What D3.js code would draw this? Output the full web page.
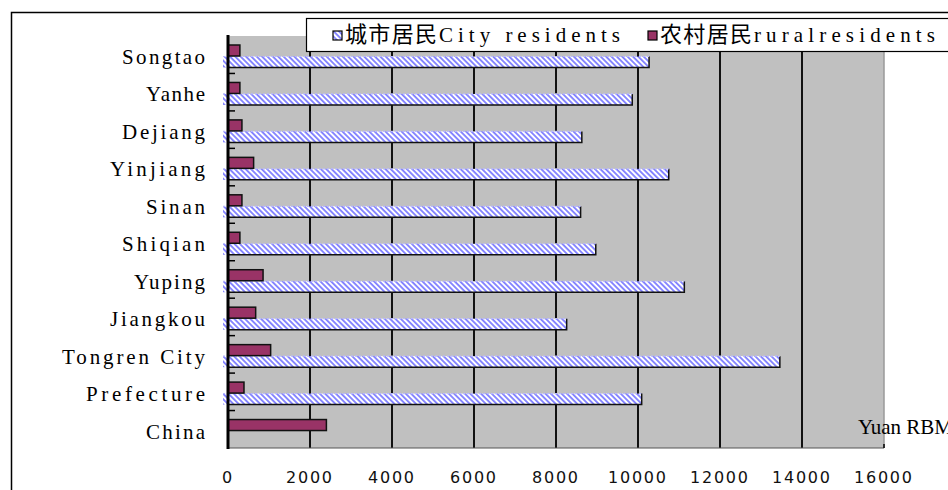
<!DOCTYPE html>
<html>
<head>
<meta charset="utf-8">
<script src="https://cdn.jsdelivr.net/npm/d3@7"></script>
<style>
  html, body { margin: 0; padding: 0; background: #fff; }
  svg { display: block; }
</style>
</head>
<body>
<svg id="chart" width="948" height="490"></svg>
<script>
// Per-capita income by county: urban vs rural residents (Yuan RMB)
const categories = ["Songtao", "Yanhe", "Dejiang", "Yinjiang", "Sinan", "Shiqian",
                    "Yuping", "Jiangkou", "Tongren City", "Prefecture", "China"];
const cityValues  = [10270, 9860, 8630, 10750, 8600, 8970, 11130, 8260, 13460, 10090, null];
const ruralValues = [290, 290, 340, 625, 340, 290, 855, 675, 1040, 390, 2400];
const xTicks = [0, 2000, 4000, 6000, 8000, 10000, 12000, 14000, 16000];
const legendZh = ["城市居民", "农村居民"];
const legendEn = ["City residents", "ruralresidents"];
const unitLabel = "Yuan RBM";

const svg = d3.select("#chart");
const plot = { left: 228, right: 884, top: 36, bottom: 448 };

const x = d3.scaleLinear().domain([0, 16000]).range([plot.left, plot.right]);
const y = d3.scaleBand().domain(categories).range([plot.top, plot.bottom]);

const RURAL = "#993366";
const HATCH = "#8585ff";
const LATIN = "'Liberation Serif', serif";
const ADV = 12; // character advance used for the latin labels

// diagonal hatch for the urban series
const defs = svg.append("defs");
const pat = defs.append("pattern")
  .attr("id", "hatch")
  .attr("patternUnits", "userSpaceOnUse")
  .attr("width", 3.8).attr("height", 3.8)
  .attr("patternTransform", "rotate(-45)");
pat.append("rect").attr("width", 3.8).attr("height", 3.8).attr("fill", "#fff");
pat.append("rect").attr("width", 1.9).attr("height", 3.8).attr("fill", HATCH);

// outer chart frame
svg.append("rect")
  .attr("x", 11.5).attr("y", 12.5).attr("width", 1000).attr("height", 1000)
  .attr("fill", "#fff").attr("stroke", "#000").attr("stroke-width", 1.5);

// plot area
svg.append("rect")
  .attr("x", plot.left).attr("y", plot.top)
  .attr("width", plot.right - plot.left).attr("height", plot.bottom - plot.top)
  .attr("fill", "#c0c0c0");
svg.append("line")
  .attr("x1", plot.right).attr("x2", plot.right)
  .attr("y1", plot.top).attr("y2", plot.bottom)
  .attr("stroke", "#9a9a9a").attr("stroke-width", 1.5);

// vertical gridlines
svg.append("g").selectAll("line")
  .data(xTicks.filter(d => d > 0 && d < 16000))
  .join("line")
  .attr("x1", d => x(d)).attr("x2", d => x(d))
  .attr("y1", plot.top).attr("y2", plot.bottom)
  .attr("stroke", "#111").attr("stroke-width", 2);

// bottom axis line
svg.append("line")
  .attr("x1", plot.left).attr("x2", plot.right)
  .attr("y1", plot.bottom).attr("y2", plot.bottom)
  .attr("stroke", "#555").attr("stroke-width", 1.2);

const barH = 11;
const ruralOff = 9;
const cityOff = 20.5;

// urban bars (hatched)
const cityData = categories.map((c, i) => ({ c, v: cityValues[i] })).filter(d => d.v != null);
const cityG = svg.append("g");
cityG.selectAll("rect")
  .data(cityData)
  .join("rect")
  .attr("x", x(0) - 5)
  .attr("y", d => y(d.c) + cityOff)
  .attr("width", d => x(d.v) - x(0) + 5)
  .attr("height", barH)
  .attr("fill", "url(#hatch)");
cityG.selectAll("path.edge")
  .data(cityData)
  .join("path")
  .attr("class", "edge")
  .attr("d", d => `M${x(0)},${y(d.c) + cityOff + barH}H${x(d.v)}V${y(d.c) + cityOff}`)
  .attr("fill", "none").attr("stroke", "#111").attr("stroke-width", 1.5);
cityG.selectAll("line.top")
  .data(cityData)
  .join("line")
  .attr("class", "top")
  .attr("x1", x(0) - 5).attr("x2", d => x(d.v))
  .attr("y1", d => y(d.c) + cityOff).attr("y2", d => y(d.c) + cityOff)
  .attr("stroke", "#b8b8ff").attr("stroke-width", 1.2)
  .attr("stroke-dasharray", "2,2");

// rural bars
svg.append("g").selectAll("rect")
  .data(categories.map((c, i) => ({ c, v: ruralValues[i] })))
  .join("rect")
  .attr("x", x(0))
  .attr("y", d => y(d.c) + ruralOff)
  .attr("width", d => x(d.v) - x(0))
  .attr("height", barH)
  .attr("fill", RURAL)
  .attr("stroke", "#111").attr("stroke-width", 1.5);

// category axis
const yAxis = svg.append("g")
  .attr("transform", `translate(${plot.left},0)`)
  .call(d3.axisLeft(y).tickSize(0).tickPadding(23));
yAxis.select(".domain").remove();
yAxis.selectAll("text")
  .attr("dy", 9.3)
  .attr("font-family", LATIN)
  .attr("font-size", 21)
  .attr("fill", "#000")
  .attr("textLength", d => d.length * ADV - 1)
  .attr("lengthAdjust", "spacing");

svg.append("line")
  .attr("x1", plot.left).attr("x2", plot.left)
  .attr("y1", plot.top - 1).attr("y2", plot.bottom + 1)
  .attr("stroke", "#000").attr("stroke-width", 3);

// category boundary ticks (inside)
svg.append("g").selectAll("line")
  .data(categories.slice(1))
  .join("line")
  .attr("x1", plot.left).attr("x2", plot.left + 7)
  .attr("y1", d => y(d)).attr("y2", d => y(d))
  .attr("stroke", "#000").attr("stroke-width", 1.5);

// value axis labels
const xAxis = svg.append("g")
  .attr("transform", `translate(0,${plot.bottom})`)
  .call(d3.axisBottom(x).tickValues(xTicks).tickSize(0).tickFormat(d3.format("d")));
xAxis.select(".domain").remove();
xAxis.selectAll("text")
  .attr("y", 35).attr("dy", 0).attr("dx", -1.5)
  .attr("font-family", "'DejaVu Sans', sans-serif")
  .attr("font-size", 16)
  .attr("fill", "#111")
  .attr("textLength", d => String(d).length * 12 - 2)
  .attr("lengthAdjust", "spacing");

// small end tick on the value axis
svg.append("line")
  .attr("x1", plot.right).attr("x2", plot.right)
  .attr("y1", plot.bottom - 4).attr("y2", plot.bottom)
  .attr("stroke", "#000").attr("stroke-width", 1.5);

// unit label
svg.append("text")
  .attr("x", 858).attr("y", 434)
  .attr("font-family", LATIN).attr("font-size", 21)
  .attr("textLength", unitLabel.length * ADV - 1)
  .attr("lengthAdjust", "spacing")
  .text(unitLabel);

// legend
const legend = svg.append("g");
legend.append("rect")
  .attr("x", 306.5).attr("y", 18.5).attr("width", 700).attr("height", 33)
  .attr("fill", "#fff").attr("stroke", "#000").attr("stroke-width", 1.2);

const LEG_ADV = 13;
const legendItems = [
  { swatchX: 333, zhX: 345, fill: "url(#hatch)" },
  { swatchX: 648, zhX: 660, fill: RURAL }
];
legendItems.forEach((it, i) => {
  legend.append("rect")
    .attr("x", it.swatchX).attr("y", 31).attr("width", 9).attr("height", 9)
    .attr("fill", it.fill).attr("stroke", "#000").attr("stroke-width", 1.2);
  legend.append("text")
    .attr("x", it.zhX).attr("y", 42)
    .attr("font-family", "'Noto Sans CJK SC', sans-serif")
    .attr("font-size", 22)
    .attr("textLength", 92).attr("lengthAdjust", "spacing")
    .text(legendZh[i]);
  legend.append("text")
    .attr("x", it.zhX + 94).attr("y", 42)
    .attr("font-family", LATIN).attr("font-size", 21)
    .attr("textLength", legendEn[i].length * LEG_ADV - 1)
    .attr("lengthAdjust", "spacing")
    .text(legendEn[i]);
});
</script>
</body>
</html>
